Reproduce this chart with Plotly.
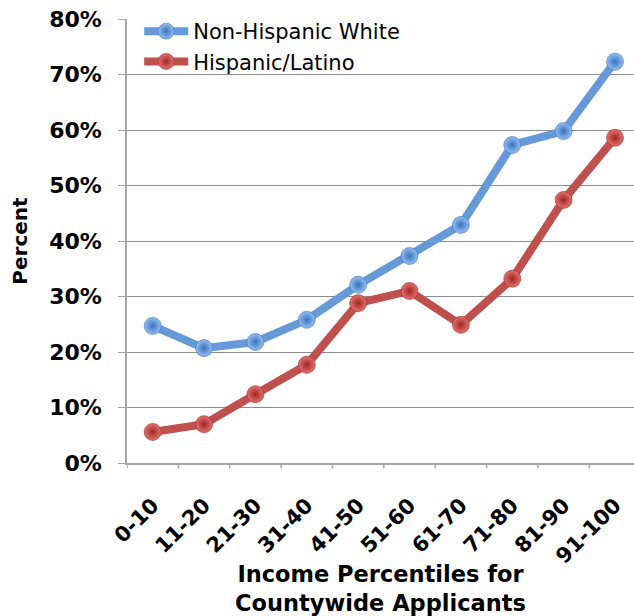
import plotly.graph_objects as go

# Income percentile bins
categories = ["0-10", "11-20", "21-30", "31-40", "41-50",
              "51-60", "61-70", "71-80", "81-90", "91-100"]

# Share of applicants (fraction) by group
non_hispanic_white = [0.247, 0.207, 0.218, 0.258, 0.321, 0.373, 0.429, 0.573, 0.598, 0.723]
hispanic_latino = [0.056, 0.070, 0.124, 0.177, 0.288, 0.310, 0.249, 0.332, 0.474, 0.586]

series_names = ["Non-Hispanic White", "Hispanic/Latino"]
line_colors = ["#6699D8", "#C0504D"]
sphere_centers = ["#93BEF0", "#E4706C"]
sphere_edges = ["#3A72BE", "#9E2826"]

y_ticks = [0, 0.1, 0.2, 0.3, 0.4, 0.5, 0.6, 0.7, 0.8]

FONT = "DejaVu Sans"
AXIS_GREY = "#A6A6A6"
x_idx = list(range(len(categories)))

fig = go.Figure()
for name, vals, lc, cc, ec in zip(series_names, [non_hispanic_white, hispanic_latino],
                                  line_colors, sphere_centers, sphere_edges):
    fig.add_trace(go.Scatter(
        x=x_idx, y=vals, name=name, mode="lines+markers",
        line=dict(color=lc, width=8),
        marker=dict(size=17, color=cc,
                    gradient=dict(type="radial", color=ec),
                    line=dict(width=0.6, color=ec)),
    ))

fig.update_layout(
    width=634, height=616,
    margin=dict(l=127, r=0, t=19, b=153, autoexpand=False),
    plot_bgcolor="white", paper_bgcolor="white",
    font=dict(family=FONT, color="black"),
    showlegend=True,
    legend=dict(x=0.024, y=1.018, xanchor="left", yanchor="top",
                bgcolor="rgba(0,0,0,0)", font=dict(size=21, family=FONT),
                itemwidth=44, tracegroupgap=0),
    xaxis=dict(
        range=[-0.5, 9.37], tickmode="array", tickvals=x_idx, ticktext=categories,
        tickangle=-45, tickfont=dict(size=21, family=FONT, weight="bold"),
        showgrid=False, zeroline=False, showline=True, linecolor=AXIS_GREY, linewidth=1.5,
        ticks="", ticklabelshift=0, ticklabelstandoff=20, automargin=False,
        title=dict(text="<b>Income Percentiles for<br>Countywide Applicants</b>",
                   font=dict(size=22.5, family=FONT), standoff=14),
    ),
    yaxis=dict(
        range=[0, 0.8], tickvals=y_ticks, tickformat=".0%",
        tickfont=dict(size=22, family=FONT, weight="bold"),
        showgrid=True, gridcolor="#8C8C8C", gridwidth=1,
        zeroline=False, showline=True, linecolor=AXIS_GREY, linewidth=1.5,
        ticks="outside", ticklen=7, tickcolor=AXIS_GREY, ticklabelstandoff=12,
        automargin=False,
        title=dict(text="<b>Percent</b>", font=dict(size=20, family=FONT), standoff=16),
    ),
)

# tick marks between categories on the x axis
for k in range(len(categories) + 1):
    fig.add_shape(type="line", xref="x", yref="paper", x0=k - 0.5, x1=k - 0.5,
                  y0=0, y1=-0.012, line=dict(color=AXIS_GREY, width=1.5))

fig.write_html("out.html")
